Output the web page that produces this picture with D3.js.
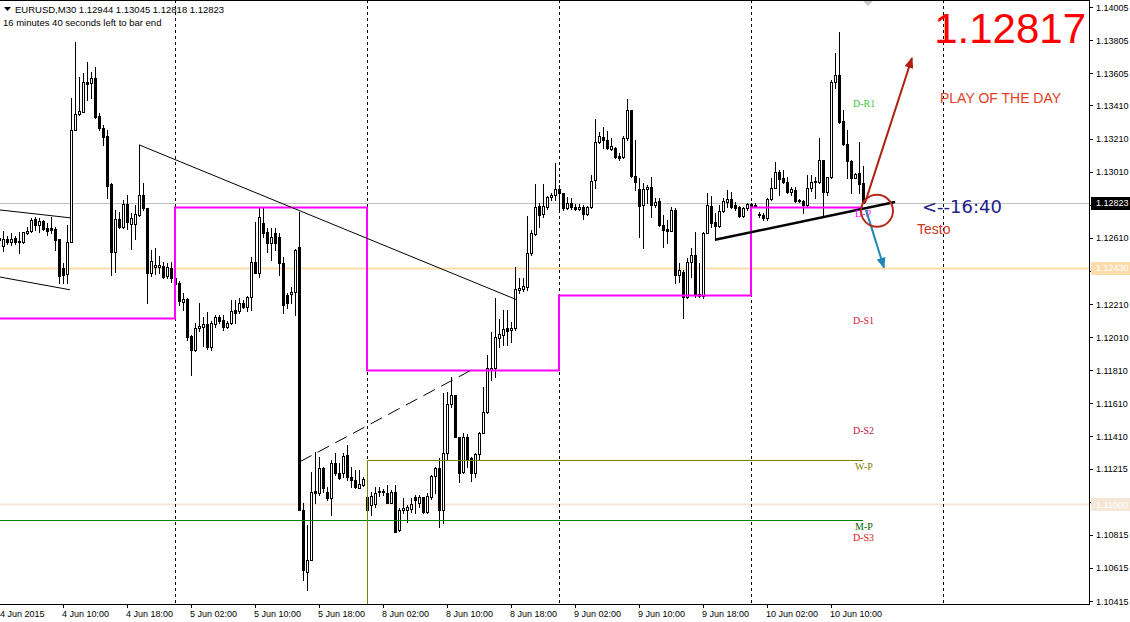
<!DOCTYPE html>
<html>
<head>
<meta charset="utf-8">
<script src="https://cdn.jsdelivr.net/npm/d3@7/dist/d3.min.js"></script>
<style>
    body { margin: 0; background: #fff; }
    svg { display: block; font-family: "Liberation Sans", Arial, sans-serif; }
</style>
</head>
<body>
<svg id="chart" width="1130" height="622"></svg>
<script>
// EURUSD M30 candles, bar 0 = 4 Jun 2015 02:00
var opens = [1.12598,1.12562,1.12604,1.12586,1.12610,1.12586,1.12586,1.12640,1.12652,1.12725,
    1.12688,1.12713,1.12670,1.12670,1.12664,1.12604,1.12429,1.12392,1.12586,1.13262,
    1.13359,1.13371,1.13552,1.13546,1.13576,1.13347,1.13274,1.13226,1.12936,1.12525,
    1.12725,1.12676,1.12815,1.12694,1.12694,1.12749,1.12870,1.12791,1.12398,1.12435,
    1.12435,1.12441,1.12380,1.12429,1.12368,1.12338,1.12223,1.12241,1.12018,1.11933,
    1.12066,1.12072,1.12090,1.11951,1.12090,1.12133,1.12115,1.12072,1.12096,1.12175,
    1.12169,1.12217,1.12193,1.12253,1.12465,1.12398,1.12700,1.12646,1.12580,1.12640,
    1.12616,1.12459,1.12266,1.12272,1.12284,1.12555,1.10967,1.10592,1.10665,1.11082,
    1.11070,1.11221,1.11076,1.11039,1.11251,1.11190,1.11190,1.11299,1.11166,1.11148,
    1.11100,1.11118,1.10967,1.10997,1.11003,1.11076,1.11076,1.11070,1.11009,1.11076,
    1.10846,1.10967,1.10967,1.10973,1.11045,1.11009,1.11045,1.10955,1.11045,1.11172,
    1.11221,1.10967,1.11311,1.11607,1.11662,1.11408,1.11196,1.11408,1.11281,1.11190,
    1.11305,1.11432,1.11559,1.11813,1.11825,1.12006,1.12024,1.12066,1.12054,1.12066,
    1.12296,1.12302,1.12314,1.12519,1.12634,1.12803,1.12755,1.12797,1.12857,1.12870,
    1.12906,1.12882,1.12791,1.12821,1.12797,1.12785,1.12797,1.12755,1.12797,1.12960,
    1.13190,1.13220,1.13202,1.13147,1.13153,1.13105,1.13099,1.13214,1.13383,1.12984,
    1.12906,1.12809,1.12906,1.12918,1.12809,1.12833,1.12688,1.12664,1.12652,1.12779,
    1.12386,1.12404,1.12253,1.12465,1.12507,1.12272,1.12260,1.12640,1.12803,1.12706,
    1.12682,1.12773,1.12827,1.12845,1.12809,1.12797,1.12743,1.12791,1.12815,1.12809,
    1.12755,1.12749,1.12731,1.12845,1.12912,1.13008,1.12972,1.12948,1.12888,1.12900,
    1.12839,1.12833,1.12809,1.12912,1.12948,1.12948,1.13081,1.12888,1.12978,1.13552,
    1.13594,1.13317,1.13178,1.13075,1.12972,1.13002,1.12944];
var highs = [1.12646,1.12652,1.12622,1.12640,1.12622,1.12646,1.12646,1.12676,1.12731,1.12737,
    1.12731,1.12719,1.12700,1.12737,1.12676,1.12604,1.12459,1.12688,1.13455,1.13794,
    1.13582,1.13606,1.13673,1.13612,1.13643,1.13365,1.13292,1.13262,1.12942,1.12779,
    1.12767,1.12839,1.12870,1.12761,1.12809,1.13172,1.12942,1.12791,1.12537,1.12549,
    1.12501,1.12465,1.12459,1.12465,1.12429,1.12350,1.12278,1.12247,1.12024,1.12096,
    1.12217,1.12133,1.12163,1.12109,1.12145,1.12145,1.12145,1.12109,1.12235,1.12235,
    1.12247,1.12235,1.12260,1.12495,1.12706,1.12791,1.12791,1.12670,1.12670,1.12670,
    1.12640,1.12495,1.12278,1.12314,1.12540,1.12767,1.11009,1.10876,1.11196,1.11317,
    1.11287,1.11227,1.11106,1.11269,1.11311,1.11251,1.11311,1.11360,1.11227,1.11209,
    1.11209,1.11166,1.11052,1.11076,1.11106,1.11106,1.11094,1.11118,1.11088,1.11118,
    1.10979,1.11039,1.10997,1.11039,1.11058,1.11058,1.11045,1.11070,1.11178,1.11227,
    1.11281,1.11674,1.11680,1.11770,1.11662,1.11408,1.11432,1.11426,1.11287,1.11311,
    1.11438,1.11710,1.11903,1.12042,1.12247,1.12121,1.12175,1.12175,1.12102,1.12435,
    1.12368,1.12368,1.12743,1.12658,1.12936,1.12821,1.12936,1.12864,1.12882,1.13063,
    1.12930,1.12882,1.12857,1.12851,1.12815,1.12815,1.12809,1.12803,1.12990,1.13329,
    1.13250,1.13280,1.13256,1.13214,1.13159,1.13123,1.13226,1.13449,1.13383,1.13202,
    1.12972,1.12942,1.12930,1.12978,1.12851,1.12851,1.12749,1.12719,1.12797,1.12791,
    1.12459,1.12417,1.12489,1.12549,1.12646,1.12459,1.12646,1.12882,1.12864,1.12761,
    1.12809,1.12851,1.12900,1.12888,1.12827,1.12803,1.12797,1.12821,1.12821,1.12821,
    1.12767,1.12761,1.12851,1.12972,1.13069,1.13021,1.13021,1.12978,1.12918,1.12918,
    1.12845,1.12839,1.12990,1.12990,1.12978,1.13214,1.13081,1.12978,1.13564,1.13727,
    1.13854,1.13383,1.13262,1.13081,1.13002,1.13190,1.13045];
var lows = [1.12537,1.12531,1.12574,1.12568,1.12574,1.12519,1.12580,1.12634,1.12646,1.12658,
    1.12646,1.12658,1.12628,1.12640,1.12537,1.12338,1.12338,1.12338,1.12586,1.13262,
    1.13353,1.13371,1.13443,1.13455,1.13335,1.13262,1.13172,1.12851,1.12386,1.12404,
    1.12670,1.12670,1.12664,1.12543,1.12604,1.12743,1.12779,1.12217,1.12380,1.12392,
    1.12398,1.12368,1.12368,1.12344,1.12296,1.12205,1.12175,1.11994,1.11782,1.11927,
    1.12048,1.11958,1.11939,1.11933,1.12072,1.12096,1.12054,1.12066,1.12090,1.12096,
    1.12157,1.12187,1.12169,1.12175,1.12398,1.12374,1.12616,1.12525,1.12477,1.12537,
    1.12386,1.12157,1.12187,1.12217,1.12145,1.10967,1.10544,1.10484,1.10665,1.11009,
    1.11058,1.11076,1.11027,1.10937,1.11178,1.11154,1.11166,1.11148,1.11106,1.11100,
    1.11100,1.11112,1.10955,1.10937,1.10985,1.11052,1.11058,1.11009,1.11009,1.10834,
    1.10840,1.10949,1.10894,1.10955,1.10949,1.10985,1.10949,1.10949,1.11033,1.11070,
    1.10864,1.10888,1.11269,1.11589,1.11408,1.11136,1.11190,1.11227,1.11142,1.11166,
    1.11269,1.11432,1.11553,1.11752,1.11770,1.11951,1.11964,1.11964,1.11982,1.12054,
    1.12278,1.12290,1.12296,1.12507,1.12628,1.12676,1.12737,1.12785,1.12839,1.12839,
    1.12779,1.12779,1.12785,1.12785,1.12779,1.12779,1.12725,1.12749,1.12791,1.12912,
    1.13184,1.13153,1.13147,1.13141,1.13093,1.13081,1.13093,1.13202,1.12978,1.12900,
    1.12616,1.12549,1.12821,1.12737,1.12797,1.12682,1.12555,1.12580,1.12652,1.12338,
    1.12344,1.12127,1.12247,1.12374,1.12253,1.12253,1.12247,1.12640,1.12676,1.12598,
    1.12676,1.12767,1.12797,1.12791,1.12779,1.12737,1.12737,1.12779,1.12791,1.12797,
    1.12737,1.12719,1.12719,1.12839,1.12912,1.12870,1.12942,1.12882,1.12870,1.12827,
    1.12827,1.12761,1.12797,1.12894,1.12851,1.12942,1.12749,1.12870,1.12972,1.13516,
    1.13304,1.13172,1.12972,1.12882,1.12972,1.12882,1.12818];
var closes = [1.12610,1.12604,1.12586,1.12604,1.12586,1.12592,1.12646,1.12652,1.12719,1.12688,
    1.12713,1.12664,1.12652,1.12658,1.12598,1.12380,1.12386,1.12586,1.13262,1.13359,
    1.13377,1.13552,1.13540,1.13576,1.13341,1.13274,1.13220,1.12924,1.12525,1.12725,
    1.12676,1.12815,1.12706,1.12731,1.12755,1.12870,1.12791,1.12398,1.12471,1.12447,
    1.12447,1.12374,1.12435,1.12368,1.12332,1.12229,1.12241,1.12012,1.11933,1.12066,
    1.12078,1.12090,1.11951,1.12096,1.12133,1.12109,1.12072,1.12096,1.12169,1.12157,
    1.12217,1.12193,1.12253,1.12465,1.12398,1.12737,1.12640,1.12580,1.12616,1.12580,
    1.12459,1.12205,1.12217,1.12284,1.12537,1.10967,1.10605,1.10665,1.11076,1.11070,
    1.11221,1.11100,1.11039,1.11251,1.11190,1.11160,1.11293,1.11166,1.11148,1.11106,
    1.11124,1.11154,1.11045,1.11052,1.11070,1.11082,1.11082,1.11009,1.11076,1.10834,
    1.10967,1.10979,1.10985,1.11003,1.11027,1.11045,1.10955,1.11052,1.11172,1.11221,
    1.10967,1.11311,1.11607,1.11662,1.11408,1.11190,1.11408,1.11269,1.11190,1.11305,
    1.11432,1.11559,1.11825,1.11825,1.12012,1.12030,1.12060,1.12048,1.12066,1.12302,
    1.12308,1.12320,1.12519,1.12640,1.12797,1.12749,1.12803,1.12857,1.12870,1.12906,
    1.12882,1.12791,1.12821,1.12797,1.12785,1.12797,1.12755,1.12797,1.12954,1.13190,
    1.13226,1.13202,1.13153,1.13166,1.13099,1.13093,1.13214,1.13383,1.12984,1.12948,
    1.12803,1.12906,1.12918,1.12809,1.12827,1.12688,1.12658,1.12652,1.12779,1.12386,
    1.12417,1.12253,1.12465,1.12507,1.12266,1.12260,1.12640,1.12809,1.12700,1.12682,
    1.12773,1.12833,1.12845,1.12797,1.12791,1.12743,1.12791,1.12815,1.12797,1.12803,
    1.12749,1.12731,1.12845,1.12912,1.13008,1.12966,1.12948,1.12888,1.12906,1.12833,
    1.12833,1.12809,1.12912,1.12948,1.12954,1.13081,1.12888,1.12978,1.13552,1.13594,
    1.13310,1.13178,1.13075,1.12972,1.12996,1.12936,1.12823];

var timeLabels = ["4 Jun 2015", "4 Jun 10:00", "4 Jun 18:00", "5 Jun 02:00", "5 Jun 10:00",
    "5 Jun 18:00", "8 Jun 02:00", "8 Jun 10:00", "8 Jun 18:00", "9 Jun 02:00",
    "9 Jun 10:00", "9 Jun 18:00", "10 Jun 02:00", "10 Jun 10:00"];
var barsPerLabel = 16;
var priceTicks = [1.14005, 1.13805, 1.13605, 1.13410, 1.13210, 1.13010, 1.12810, 1.12610,
    1.12410, 1.12210, 1.12010, 1.11810, 1.11610, 1.11410, 1.11215, 1.11015, 1.10815,
    1.10615, 1.10415];
var daySeparators = [44, 92, 140, 188, 236];

// pivot levels
var pivotDayStart = [0, 44, 92, 140, 188, 216];
var dailyPivot = [1.12123, 1.12797, 1.11813, 1.12266, 1.12797];
var weeklyPivot = 1.11269, weekStartBar = 92;
var monthlyPivot = 1.10907;
var levelNames = ["D-R1", "D-P", "D-S1", "D-S2", "W-P", "M-P", "D-S3"];
var levelPrices = [1.13461, 1.12797, 1.12151, 1.11486, 1.11269, 1.10907, 1.10840];
var levelLabelBar = 213.5;

// horizontal price lines
var bidPrice = 1.12823;
var markedLevels = [1.12430, 1.11000];

// drawn objects: [bar, price] pairs
var wedgeTop = [[0, 1.12779], [17.75, 1.12731]];
var wedgeBottom = [[0, 1.12374], [17.75, 1.12296]];
var fallLine = [[35, 1.13172], [129.5, 1.12235]];
var riseLine = [[75.25, 1.11257], [118.25, 1.11813]];
var supportLine = [[179, 1.12598], [224, 1.12827]];
var upArrow = [[216.5, 1.12821], [228.25, 1.13697]];
var downArrow = [[216.75, 1.12779], [221.25, 1.12429]];
var circleAt = [219.5, 1.12773];
var notes = [
    {text: "PLAY OF THE DAY", bar: 235.25, price: 1.13425},
    {text: "<--16:40", bar: 230.75, price: 1.12761},
    {text: "Testo", bar: 229.5, price: 1.12634}
];
var bigQuote = "1.12817";
var headerLine = "EURUSD,M30  1.12944 1.13045 1.12818 1.12823";
var timerLine = "16 minutes 40 seconds left to bar end";

var W = 1130, H = 622,
    plotRight = 1089, plotBottom = 604;

var svg = d3.select("#chart");

var x = d3.scaleLinear().domain([0, 272]).range([-1, 1087]);
var y = d3.scaleLinear().domain([1.10415, 1.14005]).range([601, 7]);
var fmt = d3.format(".5f");

var defs = svg.append("defs");
defs.append("clipPath").attr("id", "plotClip")
    .append("rect").attr("x", 0).attr("y", 0).attr("width", plotRight).attr("height", plotBottom);

function addArrowHead(id, color) {
    defs.append("marker")
        .attr("id", id)
        .attr("viewBox", "0 0 12 10")
        .attr("refX", 11).attr("refY", 5)
        .attr("markerWidth", 12).attr("markerHeight", 9)
        .attr("markerUnits", "userSpaceOnUse")
        .attr("orient", "auto")
        .append("path").attr("d", "M0,0 L12,5 L0,10 Z").attr("fill", color);
}
addArrowHead("headRed", "#b0200f");
addArrowHead("headBlue", "#1f86b8");

var plot = svg.append("g").attr("clip-path", "url(#plotClip)");

function px(v) { return Math.round(v); }

// marked horizontal levels
var levelColors = ["#fcdcaa", "#f5e6d6"];
plot.selectAll(".mark").data(markedLevels).enter().append("line")
    .attr("x1", 0).attr("x2", plotRight)
    .attr("y1", function (d) { return px(y(d)) + 0.5; })
    .attr("y2", function (d) { return px(y(d)) + 0.5; })
    .attr("stroke", function (d, i) { return levelColors[i]; })
    .attr("stroke-width", 2);

// bid line
plot.append("line")
    .attr("x1", 0).attr("x2", plotRight)
    .attr("y1", px(y(bidPrice)) + 0.5).attr("y2", px(y(bidPrice)) + 0.5)
    .attr("stroke", "#c0c0c0");

// day separators
plot.selectAll(".sep").data(daySeparators).enter().append("line")
    .attr("x1", function (d) { return px(x(d)) + 0.5; })
    .attr("x2", function (d) { return px(x(d)) + 0.5; })
    .attr("y1", 0).attr("y2", plotBottom)
    .attr("stroke", "#000")
    .attr("stroke-dasharray", "3,3");

// candles
var bars = d3.range(opens.length).map(function (i) {
    return {i: i, o: opens[i], h: highs[i], l: lows[i], c: closes[i]};
});

var candle = plot.selectAll(".candle").data(bars).enter().append("g")
    .attr("class", "candle")
    .attr("shape-rendering", "crispEdges");

candle.append("line")
    .attr("x1", function (d) { return px(x(d.i)) + 0.5; })
    .attr("x2", function (d) { return px(x(d.i)) + 0.5; })
    .attr("y1", function (d) { return px(y(d.h)); })
    .attr("y2", function (d) { return px(y(d.l)) + 1; })
    .attr("stroke", "#000");

candle.append("path")
    .attr("d", function (d) {
        var cx = px(x(d.i));
        var top = px(y(Math.max(d.o, d.c))) + 0.5,
            bot = px(y(Math.min(d.o, d.c))) + 0.5;
        return "M" + (cx - 0.5) + "," + top + "H" + (cx + 1.5) + "V" + bot + "H" + (cx - 0.5) + "Z";
    })
    .attr("fill", function (d) { return d.c >= d.o ? "#fff" : "#000"; })
    .attr("stroke", "#000");

// monthly pivot
plot.append("line")
    .attr("x1", x(0)).attr("x2", x(pivotDayStart[pivotDayStart.length - 1]))
    .attr("y1", px(y(monthlyPivot)) + 0.5).attr("y2", px(y(monthlyPivot)) + 0.5)
    .attr("stroke", "#008000");

// weekly pivot, starts at the week open
plot.append("path")
    .attr("d", "M" + (px(x(weekStartBar)) + 0.5) + "," + plotBottom +
        "V" + (px(y(weeklyPivot)) + 0.5) +
        "H" + x(pivotDayStart[pivotDayStart.length - 1]))
    .attr("fill", "none")
    .attr("stroke", "#808000");

// daily pivot steps
var stepPts = dailyPivot.map(function (v, k) { return [pivotDayStart[k], v]; });
stepPts.push([pivotDayStart[pivotDayStart.length - 1], dailyPivot[dailyPivot.length - 1]]);
plot.append("path")
    .datum(stepPts)
    .attr("d", d3.line()
        .x(function (d) { return px(x(d[0])); })
        .y(function (d) { return px(y(d[1])) + 0.5; })
        .curve(d3.curveStepAfter))
    .attr("fill", "none")
    .attr("stroke", "#ff00ff")
    .attr("stroke-width", 2);

// trend lines
function seg(pts, color, width, dash, marker) {
    var l = plot.append("line")
        .attr("x1", x(pts[0][0])).attr("y1", y(pts[0][1]))
        .attr("x2", x(pts[1][0])).attr("y2", y(pts[1][1]))
        .attr("stroke", color)
        .attr("stroke-width", width);
    if (dash) l.attr("stroke-dasharray", dash);
    if (marker) l.attr("marker-end", "url(#" + marker + ")");
    return l;
}
seg(wedgeTop, "#000", 1);
seg(wedgeBottom, "#000", 1);
seg(fallLine, "#000", 1);
seg(riseLine, "#000", 1, "13,7");
seg(supportLine, "#000", 2.5);

// level labels
var labelColors = ["#3cc43c", "#ff00ff", "#dc143c", "#c8103c", "#808000", "#006400", "#e01010"];
plot.selectAll(".lvl").data(levelNames).enter().append("text")
    .attr("x", function (d, i) { return x(levelLabelBar) + (i === 1 || i === 4 || i === 5 ? 2 : 0); })
    .attr("y", function (d, i) { return y(levelPrices[i]) + 10; })
    .attr("font-family", "'Liberation Serif', 'Times New Roman', serif")
    .attr("font-size", 10)
    .attr("fill", function (d, i) { return labelColors[i]; })
    .text(function (d) { return d; });

// play annotations
seg(upArrow, "#b0200f", 2, null, "headRed");
seg(downArrow, "#1f86b8", 2, null, "headBlue");
plot.append("circle")
    .attr("cx", x(circleAt[0])).attr("cy", y(circleAt[1]))
    .attr("r", 16)
    .attr("fill", "none")
    .attr("stroke", "#b5281c")
    .attr("stroke-width", 2);

var noteStyles = [
    {size: 14, color: "#e2401e", family: "'Liberation Sans', Arial, sans-serif"},
    {size: 18, color: "#20208a", family: "'DejaVu Sans', sans-serif"},
    {size: 14, color: "#c9371f", family: "'Liberation Sans', Arial, sans-serif"}
];
svg.selectAll(".note").data(notes).enter().append("text")
    .attr("x", function (d) { return x(d.bar); })
    .attr("y", function (d) { return y(d.price); })
    .attr("font-size", function (d, i) { return noteStyles[i].size; })
    .attr("font-family", function (d, i) { return noteStyles[i].family; })
    .attr("fill", function (d, i) { return noteStyles[i].color; })
    .text(function (d) { return d.text; });

svg.append("text")
    .attr("x", 1086).attr("y", 43)
    .attr("text-anchor", "end")
    .attr("font-size", 42)
    .attr("fill", "#ff0000")
    .text(bigQuote);

// frame and axes
svg.append("line").attr("x1", 0).attr("x2", plotRight + 1).attr("y1", 0.5).attr("y2", 0.5).attr("stroke", "#000");
svg.append("line").attr("x1", plotRight + 0.5).attr("x2", plotRight + 0.5).attr("y1", 0).attr("y2", plotBottom + 1).attr("stroke", "#000");
svg.append("line").attr("x1", 0).attr("x2", plotRight + 1).attr("y1", plotBottom + 0.5).attr("y2", plotBottom + 0.5).attr("stroke", "#000");

// ticks hidden behind the highlighted price tags get no label
var tagged = markedLevels.concat([bidPrice]);
function isCovered(v) {
    return tagged.some(function (t) { return Math.abs(t - v) < 0.00035; });
}

var yAxis = svg.append("g").attr("font-size", 9);
yAxis.selectAll(".yt").data(priceTicks).enter().append("line")
    .attr("x1", plotRight).attr("x2", plotRight + 4)
    .attr("y1", function (d) { return px(y(d)) + 0.5; })
    .attr("y2", function (d) { return px(y(d)) + 0.5; })
    .attr("stroke", "#000");
yAxis.selectAll(".yl").data(priceTicks.filter(function (v) { return !isCovered(v); })).enter().append("text")
    .attr("x", plotRight + 7)
    .attr("y", function (d) { return y(d) + 3.5; })
    .attr("fill", "#000")
    .text(function (d) { return fmt(d); });

// highlighted price labels on the axis
var tagBg = ["#fcdcaa", "#f5e6d6"];
markedLevels.forEach(function (v, i) {
    yAxis.append("rect").attr("x", plotRight + 2).attr("y", px(y(v)) - 6)
        .attr("width", W - plotRight - 2).attr("height", 13).attr("fill", tagBg[i]);
    yAxis.append("text").attr("x", plotRight + 7).attr("y", y(v) + 3.5)
        .attr("fill", "#fff").text(fmt(v));
});
yAxis.append("rect").attr("x", plotRight + 2).attr("y", px(y(bidPrice)) - 6)
    .attr("width", W - plotRight - 2).attr("height", 13).attr("fill", "#000");
yAxis.append("text").attr("x", plotRight + 7).attr("y", y(bidPrice) + 3.5)
    .attr("fill", "#fff").text(fmt(bidPrice));

var xAxis = svg.append("g").attr("font-size", 9);
xAxis.selectAll(".xt").data(timeLabels).enter().append("line")
    .attr("x1", function (d, i) { return px(x(i * barsPerLabel)) + 0.5; })
    .attr("x2", function (d, i) { return px(x(i * barsPerLabel)) + 0.5; })
    .attr("y1", plotBottom).attr("y2", plotBottom + 4)
    .attr("stroke", "#000");
xAxis.selectAll(".xl").data(timeLabels).enter().append("text")
    .attr("x", function (d, i) { return Math.max(0, x(i * barsPerLabel) - 1); })
    .attr("y", plotBottom + 13)
    .attr("fill", "#000")
    .text(function (d) { return d; });

// shift marker at the top
svg.append("path")
    .attr("d", "M" + (x(217.25) - 5) + ",1 H" + (x(217.25) + 5) + " L" + x(217.25) + ",6 Z")
    .attr("fill", "#c8c8c8");

// header
svg.append("path").attr("d", "M4,7 H11 L7.5,11 Z").attr("fill", "#000");
svg.append("text").attr("x", 15).attr("y", 13).attr("font-size", 9.5).attr("fill", "#000").text(headerLine);
svg.append("text").attr("x", 3).attr("y", 26).attr("font-size", 9.5).attr("fill", "#000").text(timerLine);
</script>
</body>
</html>
